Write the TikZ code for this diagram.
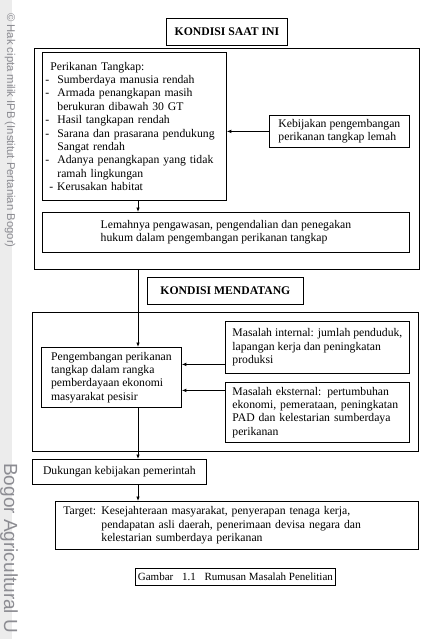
\documentclass[tikz,border=0pt]{standalone}
\usepackage{fontspec}
\setmainfont{Liberation Serif}
\newfontfamily\wmfont{Liberation Sans}
\usetikzlibrary{arrows.meta}
\definecolor{wmgray}{RGB}{140,140,146}
\definecolor{stripgray}{RGB}{236,236,236}
\begin{document}
\begin{tikzpicture}[x=1pt,y=-1pt,
  bx/.style={draw, line width=0.8pt, rectangle, anchor=north west, inner sep=0pt, align=left,
    font=\fontsize{11.7}{13.4}\selectfont},
  hd/.style={bx, align=center, font=\fontsize{11.7}{13.4}\selectfont\bfseries},
  frame/.style={draw, line width=0.9pt, rectangle, anchor=north west, inner sep=0pt},
  arr/.style={-{Latex[length=4.5pt,width=3.6pt]}, line width=0.8pt},
  wm/.style={text=wmgray, rotate=-90, anchor=west, inner sep=0pt}]
\useasboundingbox (0,0) rectangle (429,639);
\fill[stripgray] (0,0) rectangle (12,639);
\node[wm, font=\wmfont\fontsize{11.3}{12}\selectfont] (wm1) at (10,13) {© Hak cipta milik IPB (Institut Pertanian Bogor)};
\node[wm, font=\wmfont\fontsize{19}{21}\selectfont] (wm2) at (9,463) {Bogor Agricultural U};

\coordinate (sp) at (138,0);

% KONDISI SAAT INI
\node[hd, minimum width=121pt, minimum height=27pt] (kondisi1) at (166,18) {KONDISI SAAT INI};
\node[frame, minimum width=385pt, minimum height=221pt] (outer1) at (34,48) {};
\node[bx, minimum height=148pt, text width=178pt, inner xsep=3pt] (perik) at (42,52) {%
\hspace*{5pt}Perikanan Tangkap:\\
\makebox[12pt][l]{-}Sumberdaya manusia rendah\\
\makebox[12pt][l]{-}Armada penangkapan masih\\
\hspace*{12pt}berukuran dibawah 30 GT\\
\makebox[12pt][l]{-}Hasil tangkapan rendah\\
\makebox[12pt][l]{-}Sarana dan prasarana pendukung\\
\hspace*{12pt}Sangat rendah\\
\makebox[12pt][l]{-}Adanya penangkapan yang tidak\\
\hspace*{12pt}ramah lingkungan\\
\hspace*{4pt}- Kerusakan habitat\\[-1pt]};
\node[bx, minimum width=140pt, minimum height=32pt] (kebij) at (269,115) {Kebijakan pengembangan\\ perikanan tangkap lemah};
\node[bx, minimum width=367pt, minimum height=40pt] (lemah) at (42,212) {Lemahnya pengawasan, pengendalian dan penegakan\\ hukum dalam pengembangan perikanan tangkap};

% KONDISI MENDATANG
\node[hd, minimum width=156pt, minimum height=27pt] (kondisi2) at (147,277) {KONDISI MENDATANG};
\node[frame, minimum width=386pt, minimum height=139pt] (outer2) at (32,312) {};
\node[bx, minimum width=140pt, minimum height=60pt] (pengemb) at (41,347) {Pengembangan perikanan\\ tangkap dalam rangka\\ pemberdayaan ekonomi\\ masyarakat pesisir};
\node[bx, minimum width=184pt, minimum height=52pt] (internal) at (225,321) {Masalah internal: jumlah penduduk,\\ lapangan kerja dan peningkatan\\ produksi};
\node[bx, minimum height=60pt, text width=170pt, inner xsep=7pt] (eksternal) at (225,382) {Masalah eksternal: pertumbuhan\\ ekonomi, pemerataan, peningkatan\\ PAD dan kelestarian sumberdaya\\ perikanan};

\node[bx, minimum width=174pt, minimum height=25pt] (dukungan) at (32,459) {Dukungan kebijakan pemerintah};
\node[bx, minimum height=48pt, text width=347pt, inner xsep=8pt] (target) at (55,501) {%
\makebox[38pt][l]{Target:}Kesejahteraan masyarakat, penyerapan tenaga kerja,\\
\hspace*{38pt}pendapatan asli daerah, penerimaan devisa negara dan\\
\hspace*{38pt}kelestarian sumberdaya perikanan};
\node[bx, minimum width=200pt, minimum height=17pt, font=\fontsize{11}{12}\selectfont] (gambar) at (135,568) {Gambar\hspace{6pt} 1.1\hspace{6pt} Rumusan Masalah Penelitian};

% connectors
\draw[arr] (kebij.west) -- (kebij.west -| perik.east);
\draw[arr] (perik.south -| sp) -- (lemah.north -| sp);
\draw[arr] (outer1.south -| sp) -- (pengemb.north -| sp);
\draw[arr] ([yshift=-17pt]internal.west) -- ([yshift=-17pt]internal.west -| pengemb.east);
\draw[arr] ([yshift=22pt]eksternal.west) -- ([yshift=22pt]eksternal.west -| pengemb.east);
\draw[arr] (pengemb.south -| sp) -- (dukungan.north -| sp);
\draw[arr] (dukungan.south -| sp) -- (target.north -| sp);
\end{tikzpicture}
\end{document}
